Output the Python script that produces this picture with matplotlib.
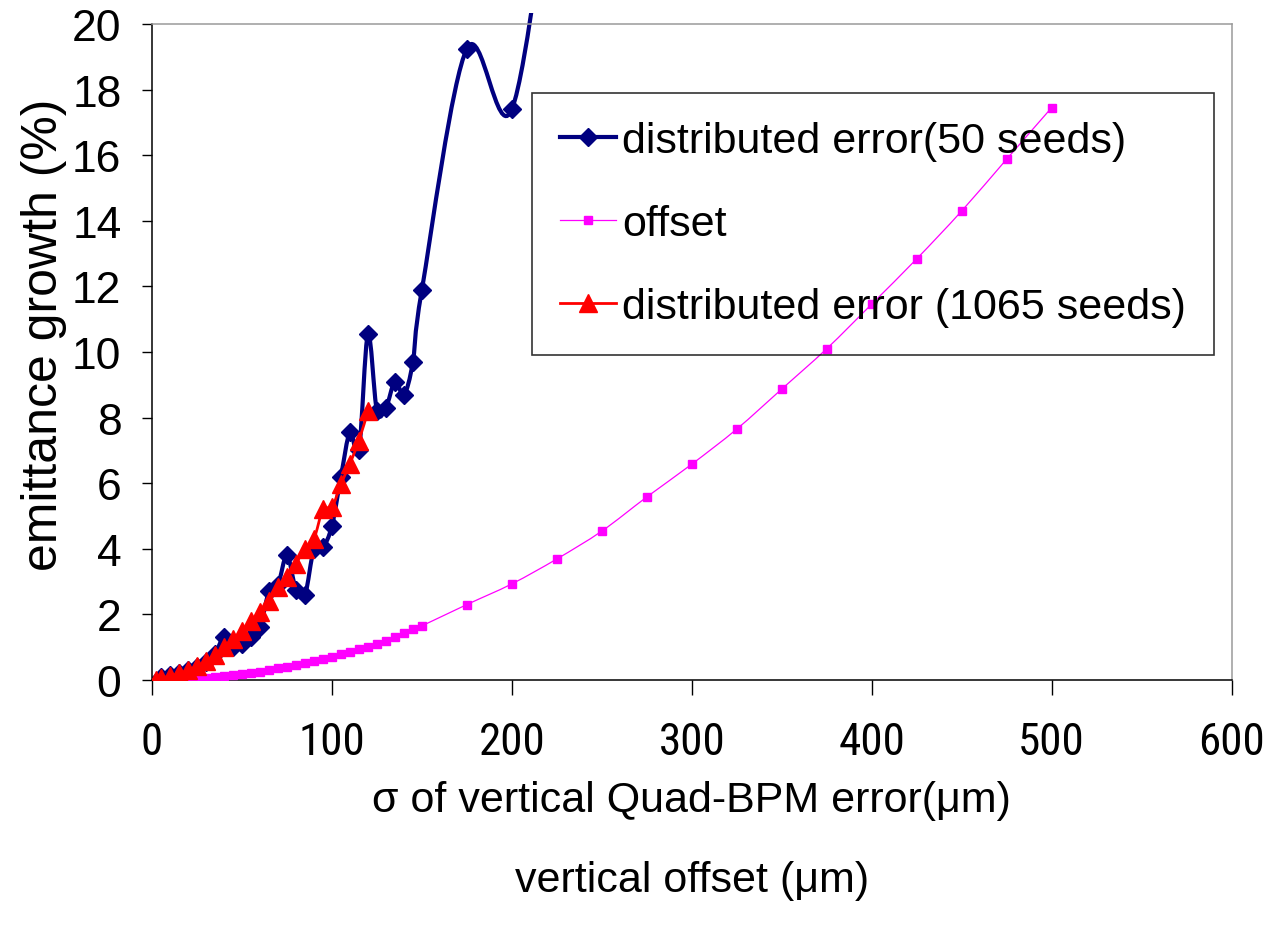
import numpy as np
import matplotlib
matplotlib.use("Agg")
import matplotlib.pyplot as plt
from matplotlib.path import Path
from matplotlib.patches import PathPatch
from matplotlib.lines import Line2D
from matplotlib.transforms import Bbox, TransformedBbox
from matplotlib import font_manager

plt.rcParams['font.family'] = ['Liberation Sans', 'DejaVu Sans']

# ---------------- data ----------------
seeds50_x = [5, 10, 15, 20, 25, 30, 35, 40, 45, 50, 55, 60, 65, 70, 75, 80, 85, 90,
             95, 100, 105, 110, 115, 120, 125, 130, 135, 140, 145, 150, 175, 200, 225]
seeds50_y = [0.1, 0.15, 0.2, 0.3, 0.4, 0.55, 0.8, 1.3, 1.0, 1.1, 1.3, 1.6, 2.7, 2.9,
             3.8, 2.75, 2.6, 4.0, 4.05, 4.7, 6.2, 7.55, 7.0, 10.55, 8.2, 8.3, 9.1,
             8.7, 9.7, 11.9, 19.25, 17.4, 26.0]

offset_x = [5, 10, 15, 20, 25, 30, 35, 40, 45, 50, 55, 60, 65, 70, 75, 80, 85, 90,
            95, 100, 105, 110, 115, 120, 125, 130, 135, 140, 145, 150, 175, 200, 225,
            250, 275, 300, 325, 350, 375, 400, 425, 450, 475, 500]
offset_y = [0.0, 0.01, 0.02, 0.03, 0.05, 0.07, 0.09, 0.12, 0.15, 0.18, 0.21, 0.25,
            0.3, 0.35, 0.4, 0.45, 0.51, 0.57, 0.64, 0.71, 0.78, 0.85, 0.93, 1.02,
            1.1, 1.2, 1.3, 1.42, 1.54, 1.65, 2.3, 2.93, 3.69, 4.54, 5.58, 6.58, 7.65,
            8.87, 10.1, 11.46, 12.84, 14.3, 15.88, 17.45]

seeds1065_x = [2, 5, 10, 15, 20, 25, 30, 35, 40, 45, 50, 55, 60, 65, 70, 75, 80, 85,
               90, 95, 100, 105, 110, 115, 120]
seeds1065_y = [0.0, 0.05, 0.12, 0.2, 0.3, 0.42, 0.57, 0.75, 1.0, 1.25, 1.5, 1.8,
               2.07, 2.4, 2.83, 3.13, 3.55, 4.0, 4.3, 5.2, 5.27, 5.97, 6.6, 7.3, 8.2]

labels = ['distributed error(50 seeds)', 'offset', 'distributed error (1065 seeds)']
x_ticks = [0, 100, 200, 300, 400, 500, 600]
y_ticks = [0, 2, 4, 6, 8, 10, 12, 14, 16, 18, 20]

NAVY = '#000080'
MAGENTA = '#FF00FF'
RED = '#FF0000'

# narrow face for the x tick labels if one is installed
_names = {f.name for f in font_manager.fontManager.ttflist}
NARROW = None
for cand in ['Liberation Sans Narrow', 'Arial Narrow', 'Roboto Condensed',
             'Open Sans Condensed', 'DejaVu Sans Condensed']:
    if cand in _names:
        NARROW = cand
        break


def smooth_path(x, y):
    """Excel-style smoothed line (Catmull-Rom -> cubic Bezier) through the points."""
    pts = np.column_stack([np.asarray(x, float), np.asarray(y, float)])
    n = len(pts)
    verts = [pts[0]]
    codes = [Path.MOVETO]
    for i in range(n - 1):
        p0 = pts[i - 1] if i > 0 else pts[i]
        p1 = pts[i]
        p2 = pts[i + 1]
        p3 = pts[i + 2] if i + 2 < n else pts[i + 1]
        verts += [p1 + (p2 - p0) / 6.0, p2 - (p3 - p1) / 6.0, p2]
        codes += [Path.CURVE4] * 3
    return Path(verts, codes)


fig = plt.figure(figsize=(12.67, 9.28), dpi=100)
ax = fig.add_axes([0.120, 0.2662, 0.852, 0.7068])

ax.set_xlim(0, 600)
ax.set_ylim(0, 20)

clip = TransformedBbox(Bbox([[0, 0], [1, 1.017]]), ax.transAxes)

series = [
    (seeds50_x, seeds50_y, NAVY, 'D', 9, 3.0, 2),
    (offset_x, offset_y, MAGENTA, 's', 5.5, 0.9, 3),
    (seeds1065_x, seeds1065_y, RED, '^', 12.5, 2.0, 4),
]
handles = []
for (xs, ys, col, mk, ms, lw, z), lab in zip(series, labels):
    patch = PathPatch(smooth_path(xs, ys), facecolor='none', edgecolor=col,
                      lw=lw, transform=ax.transData, zorder=z)
    ax.add_patch(patch)
    patch.set_clip_box(clip)
    ax.plot(xs, ys, linestyle='none', marker=mk, ms=ms, color=col,
            markeredgecolor=col, zorder=z + 0.5, clip_on=True)
    handles.append(Line2D([], [], color=col, lw=lw, marker=mk, ms=ms,
                          markeredgecolor=col))

ax.set_xticks(x_ticks)
ax.set_yticks(y_ticks)
ax.tick_params(axis='x', direction='out', length=10.5, width=1.0, pad=19,
               labelsize=32, color='black')
ax.tick_params(axis='y', direction='out', length=7, width=1.0, pad=15,
               labelsize=32, color='black')
if NARROW:
    for t in ax.get_xticklabels():
        t.set_family([NARROW, 'Liberation Sans'])
        t.set_fontsize(32.5)
else:
    for t in ax.get_xticklabels():
        t.set_fontsize(29)

for s in ['left', 'bottom']:
    ax.spines[s].set_color('black')
    ax.spines[s].set_linewidth(1.1)
for s in ['top', 'right']:
    ax.spines[s].set_color('#9a9a9a')
    ax.spines[s].set_linewidth(1.1)

ax.set_xlabel('\u03c3 of vertical Quad-BPM error(\u03bcm)\nvertical offset (\u03bcm)',
              fontsize=31, linespacing=2.3)
ax.xaxis.set_label_coords(0.5, -0.152)
ax.set_ylabel('emittance growth (%)', fontsize=36)
ax.yaxis.set_label_coords(-0.079, 0.527)

leg = ax.legend(handles, labels, loc='upper left', bbox_to_anchor=(0.352, 0.895),
                fontsize=31, frameon=True, fancybox=False, handlelength=1.3,
                handletextpad=0.15, labelspacing=1.0, borderpad=0.65,
                borderaxespad=0.0)
fr = leg.get_frame()
fr.set_facecolor('none')
fr.set_edgecolor('black')
fr.set_linewidth(1.2)

fig.savefig('out.png', dpi=100)
